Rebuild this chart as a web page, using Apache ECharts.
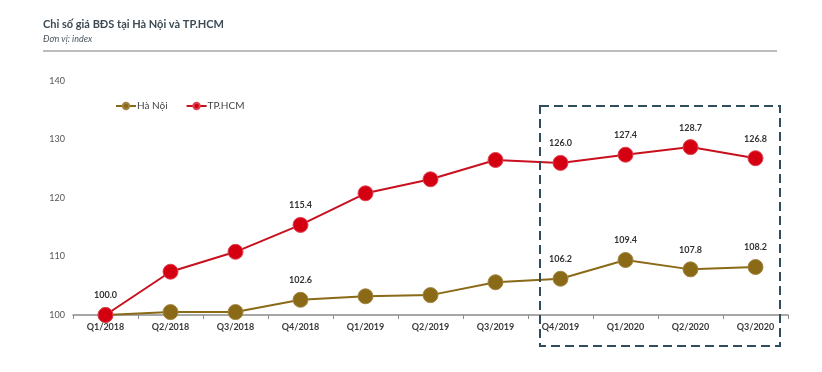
<!DOCTYPE html>
<html><head><meta charset="utf-8">
<script src="https://cdn.jsdelivr.net/npm/echarts@6/dist/echarts.min.js"></script>
<style>html,body{margin:0;padding:0;background:#fff}#c{width:822px;height:372px}</style>
</head><body><div id="c"></div>
<script>
const categories = ['Q1/2018','Q2/2018','Q3/2018','Q4/2018','Q1/2019','Q2/2019','Q3/2019','Q4/2019','Q1/2020','Q2/2020','Q3/2020'];
const haNoi = [100.0, 100.5, 100.5, 102.6, 103.2, 103.4, 105.6, 106.2, 109.4, 107.8, 108.2];
const tpHCM = [100.0, 107.4, 110.8, 115.4, 120.8, 123.2, 126.5, 126.0, 127.4, 128.7, 126.8];
const haNoiLabeled = [3, 7, 8, 9, 10];
const tpHCMLabeled = [0, 3, 7, 8, 9, 10];
const yTicks = [100, 110, 120, 130, 140];

const FONT = 'Lato, "Open Sans", sans-serif';
function mk(values, labeled) {
  return values.map((v, i) => ({
    value: v,
    label: { show: labeled.includes(i) }
  }));
}
const chart = echarts.init(document.getElementById('c'));
const labelStyle = { position: 'top', distance: 7, formatter: p => p.value.toFixed(1), fontFamily: FONT, fontSize: 9, fontWeight: 'bold', color: '#333' };
chart.setOption({
  animation: false,
  grid: { left: 73, right: 34, top: 81, bottom: 57 },
  legend: {
    left: 110, top: 96, itemWidth: 20, itemHeight: 8, itemGap: 18,
    textStyle: { fontFamily: FONT, fontSize: 10, color: '#444', padding: [0, 0, 0, -4] },
    data: ['Hà Nội', 'TP.HCM']
  },
  xAxis: {
    type: 'category', data: categories, boundaryGap: true,
    axisLine: { lineStyle: { color: '#8a8a8a', width: 1.5 } },
    axisTick: { show: true, length: 4, lineStyle: { color: '#8a8a8a' } },
    axisLabel: { fontFamily: FONT, fontSize: 9, fontWeight: 'bold', color: '#3a3a3a', margin: 8 }
  },
  yAxis: {
    type: 'value', min: yTicks[0], max: yTicks[yTicks.length - 1], interval: 10,
    axisLine: { show: false }, axisTick: { show: false }, splitLine: { show: false },
    axisLabel: { fontFamily: FONT, fontSize: 9, color: '#555', margin: 8 }
  },
  series: [
    { name: 'Hà Nội', type: 'line', data: mk(haNoi, haNoiLabeled), symbol: 'circle', symbolSize: 15,
      color: '#8a6a17', lineStyle: { width: 2, color: '#8a6a17' },
      itemStyle: { color: '#8a6a17', borderColor: '#a08440', borderWidth: 1 },
      label: labelStyle, z: 2 },
    { name: 'TP.HCM', type: 'line', data: mk(tpHCM, tpHCMLabeled), symbol: 'circle', symbolSize: 15,
      color: '#d40012', lineStyle: { width: 2, color: '#c8101e' },
      itemStyle: { color: '#d40012', borderColor: '#e04050', borderWidth: 1 },
      label: labelStyle, z: 3 }
  ],
  graphic: [
    { type: 'text', left: 43, top: 19, style: { text: 'Chỉ số giá BĐS tại Hà Nội và TP.HCM', font: 'bold 11px ' + FONT, fill: '#3b4a55' } },
    { type: 'text', left: 43, top: 35, style: { text: 'Đơn vị: index', font: 'italic 9px ' + FONT, fill: '#4a5560' } },
    { type: 'line', shape: { x1: 43, y1: 51, x2: 777, y2: 51 }, style: { stroke: '#bdbdbd', lineWidth: 2 } },
    { type: 'rect', shape: { x: 540, y: 106, width: 240, height: 240 }, style: { fill: 'none', stroke: '#2f4d5c', lineWidth: 2, lineDash: [9, 5] }, z: 10 }
  ]
});
</script></body></html>
